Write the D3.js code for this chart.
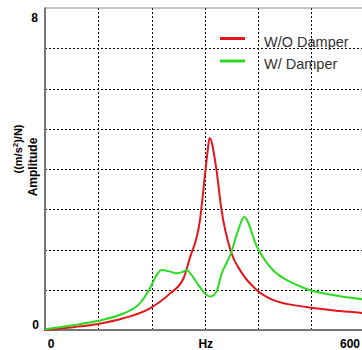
<!DOCTYPE html>
<html>
<head>
<meta charset="utf-8">
<script src="https://cdn.jsdelivr.net/npm/d3@7"></script>
<style>
  body { margin: 0; background: #fff; }
  svg { display: block; font-family: "Liberation Sans", Arial, sans-serif; }
</style>
</head>
<body>
<div id="chart"></div>
<script>
// frequency (Hz) and amplitude values
const hzWithout = [0, 53, 100, 147, 197, 235, 260, 272, 291, 300, 305, 309, 322, 331, 349, 368, 398, 428, 491, 554, 600];
const ampWithout = [0, 0.07, 0.15, 0.29, 0.54, 0.91, 1.28, 1.79, 2.73, 3.8, 4.4, 4.77, 3.98, 3.02, 1.95, 1.45, 0.99, 0.75, 0.57, 0.47, 0.42];

const hzWith = [0, 53, 100, 147, 178, 197, 210, 219, 235, 247, 260, 266, 275, 288, 300, 310, 322, 331, 349, 362, 374, 398, 428, 460, 491, 554, 600];
const ampWith = [0.02, 0.12, 0.23, 0.41, 0.66, 1.04, 1.37, 1.49, 1.45, 1.41, 1.45, 1.49, 1.37, 1.12, 0.91, 0.83, 0.95, 1.37, 1.9, 2.45, 2.81, 2.07, 1.49, 1.2, 1.02, 0.84, 0.76];

const xTicks = [0, 100, 200, 300, 400, 500, 600];
const yTicks = [0, 1, 2, 3, 4, 5, 6, 7, 8];
const seriesNames = ["W/O Damper", "W/ Damper"];
const seriesColors = ["#e3161b", "#2bdc23"];

const W = 362, H = 350;
const plot = { left: 45, top: 8, width: 319.5, height: 322 };

var svg = d3.select("#chart").append("svg")
    .attr("width", W)
    .attr("height", H);

var x = d3.scaleLinear().domain([0, 600]).range([plot.left, plot.left + plot.width]);
var y = d3.scaleLinear().domain([0, 8]).range([plot.top + plot.height, plot.top]);

// grid
svg.append("g")
    .selectAll("line")
    .data(xTicks.slice(1, -1))
    .enter().append("line")
    .attr("x1", d => Math.round(x(d)) + 0.5).attr("x2", d => Math.round(x(d)) + 0.5)
    .attr("y1", y(0)).attr("y2", y(8))
    .attr("stroke", "#000")
    .attr("stroke-width", 1)
    .attr("stroke-dasharray", "2,2");

svg.append("g")
    .selectAll("line")
    .data(yTicks.slice(1, -1))
    .enter().append("line")
    .attr("x1", x(0)).attr("x2", x(600))
    .attr("y1", d => Math.round(y(d)) + 0.5).attr("y2", d => Math.round(y(d)) + 0.5)
    .attr("stroke", "#000")
    .attr("stroke-width", 1)
    .attr("stroke-dasharray", "2,2");

// frame
svg.append("line")
    .attr("x1", x(0)).attr("x2", x(600))
    .attr("y1", y(8)).attr("y2", y(8))
    .attr("stroke", "#888").attr("stroke-width", 1);
svg.append("line")
    .attr("x1", x(0)).attr("x2", x(0))
    .attr("y1", y(8) - 0.5).attr("y2", y(0) + 1)
    .attr("stroke", "#777").attr("stroke-width", 2);
svg.append("line")
    .attr("x1", x(0)).attr("x2", x(600))
    .attr("y1", y(0)).attr("y2", y(0))
    .attr("stroke", "#777").attr("stroke-width", 2);

// curves
var line = d3.line()
    .x(d => x(d[0]))
    .y(d => y(d[1]))
    .curve(d3.curveMonotoneX);

var withoutData = hzWithout.map((h, i) => [h, ampWithout[i]]);
var withData = hzWith.map((h, i) => [h, ampWith[i]]);

svg.append("path")
    .datum(withoutData)
    .attr("d", line)
    .attr("fill", "none")
    .attr("stroke", seriesColors[0])
    .attr("stroke-width", 2);

svg.append("path")
    .datum(withData)
    .attr("d", line)
    .attr("fill", "none")
    .attr("stroke", seriesColors[1])
    .attr("stroke-width", 2);

// tick labels
svg.append("text")
    .attr("x", x(0) - 7).attr("y", y(8) + 14)
    .attr("text-anchor", "end")
    .style("font-weight", "bold").style("font-size", "12px")
    .text(yTicks[yTicks.length - 1]);
svg.append("text")
    .attr("x", x(0) - 6).attr("y", y(0) - 1)
    .attr("text-anchor", "end")
    .style("font-weight", "bold").style("font-size", "12px")
    .text(yTicks[0]);
svg.append("text")
    .attr("x", x(0) + 6).attr("y", y(0) + 18)
    .attr("text-anchor", "middle")
    .style("font-weight", "bold").style("font-size", "12px")
    .text(xTicks[0]);
svg.append("text")
    .attr("x", x(300) + 1).attr("y", y(0) + 18)
    .attr("text-anchor", "middle")
    .style("font-weight", "bold").style("font-size", "12px")
    .text("Hz");
svg.append("text")
    .attr("x", 360).attr("y", y(0) + 18)
    .attr("text-anchor", "end")
    .style("font-weight", "bold").style("font-size", "12px")
    .text(xTicks[xTicks.length - 1]);

// y axis title
var t1 = svg.append("text")
    .attr("transform", "translate(22,149) rotate(-90)")
    .attr("text-anchor", "middle")
    .style("font-weight", "bold").style("font-size", "11px");
t1.append("tspan").text("((m/s");
t1.append("tspan").attr("dy", -4).style("font-size", "8px").text("2");
t1.append("tspan").attr("dy", 4).text(")/N)");

svg.append("text")
    .attr("transform", "translate(37,167) rotate(-90)")
    .attr("text-anchor", "middle")
    .style("font-weight", "bold").style("font-size", "12px")
    .text("Amplitude");

// legend
var legend = svg.append("g").attr("class", "legend");
seriesNames.forEach(function (name, i) {
    var ly = 38.5 + i * 22.5;
    legend.append("line")
        .attr("x1", 220).attr("x2", 245)
        .attr("y1", ly).attr("y2", ly)
        .attr("stroke", seriesColors[i])
        .attr("stroke-width", 3);
    legend.append("text")
        .attr("x", 264).attr("y", ly + 8)
        .style("font-size", "14.5px")
        .style("fill", "#333")
        .text(name);
});
</script>
</body>
</html>
